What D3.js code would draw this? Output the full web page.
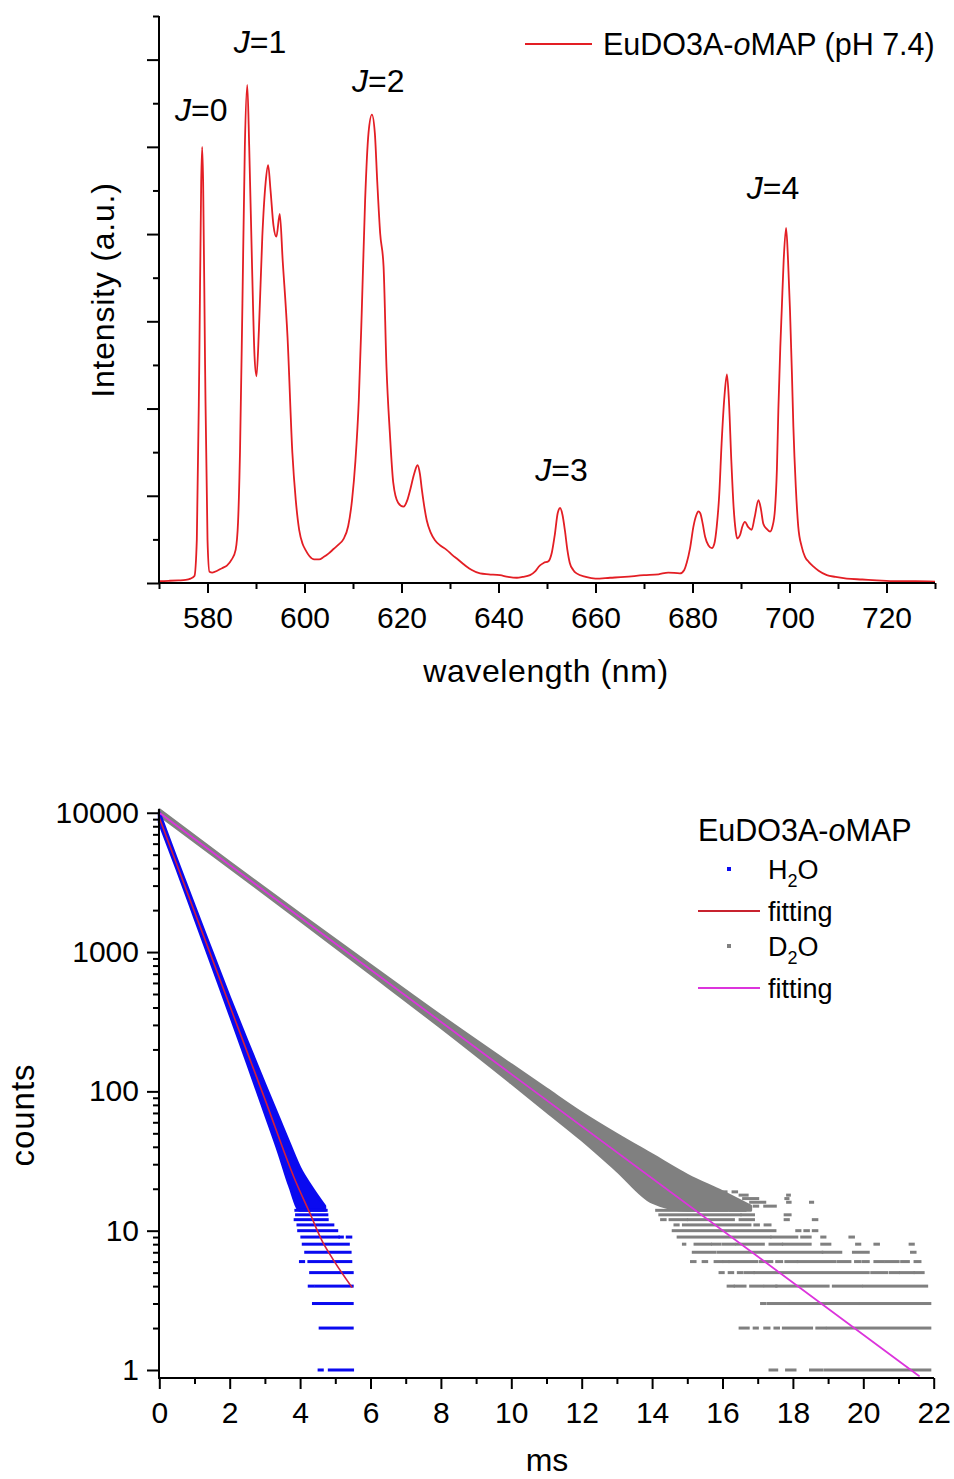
<!DOCTYPE html>
<html>
<head>
<meta charset="utf-8">
<script src="https://cdn.jsdelivr.net/npm/d3@7"></script>
<style>
  body { margin: 0; background: #fff; }
  text { font-family: "Liberation Sans", Arial, sans-serif; fill: #000; }
</style>
</head>
<body>
<svg id="chart" width="954" height="1479"></svg>
<script>
// ---- emission spectrum (wavelength nm, intensity a.u.) ----
const spectrum = [
  [570,0.02],[572,0.025],[574,0.03],[575.5,0.035],[576.5,0.05],[577.3,0.08],[577.8,0.5],[578.3,2.5],
  [578.7,4.6],[578.9,5.0],[579.1,4.6],[579.5,2.5],[580.0,0.5],[580.4,0.13],[581,0.12],[582,0.14],
  [583,0.17],[584,0.2],[585,0.27],[585.8,0.38],[586.3,0.7],[586.7,1.5],[587.2,3.2],[587.7,5.0],
  [588.2,5.71],[588.6,5.0],[589.2,3.6],[589.7,2.6],[590.1,2.37],[590.6,2.9],[591.3,3.97],[592.0,4.6],
  [592.5,4.79],[593.0,4.5],[593.6,4.1],[594.2,3.97],[594.9,4.23],[595.5,3.7],[596.5,2.82],[597.5,1.49],
  [598.2,0.95],[598.9,0.61],[599.6,0.45],[600.2,0.38],[601,0.31],[602,0.27],[603,0.27],[604,0.3],
  [605,0.34],[606,0.39],[607,0.44],[608,0.5],[609,0.65],[609.8,0.95],[610.5,1.4],[611.2,2.1],
  [611.8,3.1],[612.5,4.39],[613.2,5.16],[613.9,5.37],[614.5,5.16],[615.0,4.6],[615.6,4.01],[616.3,3.63],
  [616.9,2.48],[617.6,1.72],[618.3,1.15],[619.3,0.92],[620.4,0.875],[621.2,0.95],[621.8,1.07],[622.6,1.25],
  [623.3,1.35],[623.8,1.25],[624.2,1.07],[625.2,0.72],[626.0,0.58],[626.9,0.49],[628,0.43],[629.3,0.38],
  [630.5,0.32],[631.4,0.28],[632.5,0.23],[633.4,0.19],[634.5,0.15],[636.2,0.11],[638,0.1],[640.3,0.09],
  [642,0.07],[643.8,0.06],[645,0.07],[646.5,0.09],[647.5,0.13],[648.5,0.2],[649.3,0.23],[650.3,0.25],
  [651.0,0.35],[651.6,0.55],[652.2,0.8],[652.7,0.86],[653.2,0.78],[653.7,0.6],[654.2,0.38],[654.7,0.23],
  [655.4,0.15],[656.1,0.11],[658,0.07],[660,0.05],[663,0.06],[666,0.07],[670,0.09],[673,0.1],
  [675,0.12],[677.4,0.11],[678.3,0.15],[678.8,0.23],[679.5,0.4],[680.2,0.65],[680.8,0.78],[681.2,0.82],
  [681.6,0.8],[682.1,0.68],[682.6,0.53],[683.3,0.43],[684,0.4],[684.5,0.45],[685,0.65],[685.5,1.0],
  [686,1.6],[686.6,2.15],[687.1,2.39],[687.5,2.1],[688,1.41],[688.5,0.85],[688.9,0.6],[689.2,0.51],
  [689.8,0.55],[690.3,0.65],[690.8,0.7],[691.5,0.64],[692.2,0.61],[692.8,0.75],[693.6,0.95],[694.1,0.85],
  [694.6,0.68],[695.3,0.62],[696,0.59],[696.5,0.65],[697,0.84],[697.4,1.3],[697.7,1.98],[698.1,2.7],
  [698.4,3.13],[698.8,3.7],[699.3,4.07],[699.7,3.7],[700.1,3.13],[700.5,2.4],[700.8,1.79],[701.3,1.1],
  [701.8,0.65],[702.5,0.42],[703.2,0.3],[704,0.24],[704.9,0.19],[706,0.14],[707.7,0.09],[709.5,0.07],
  [711.8,0.05],[715,0.04],[718,0.03],[722,0.02],[726,0.02],[730,0.015]
];
const wlMajor = [580, 600, 620, 640, 660, 680, 700, 720];
const wlMinor = [570, 590, 610, 630, 650, 670, 690, 710, 730];
const intMajor = [0, 1, 2, 3, 4, 5, 6];
const intMinor = [0.5, 1.5, 2.5, 3.5, 4.5, 5.5, 6.5];
const peakLabels = [
  { j: "0", wl: 573.3, i: 5.3 },
  { j: "1", wl: 585.4, i: 6.08 },
  { j: "2", wl: 609.8, i: 5.63 },
  { j: "3", wl: 647.6, i: 1.17 },
  { j: "4", wl: 691.2, i: 4.4 }
];

// ---- luminescence decay (ms, counts) ----
// fitted curves
const h2oFit = [[0, 9200], [1, 1950], [2, 413], [3, 88], [3.86, 23], [4.28, 13.3], [4.61, 8.6], [4.94, 6.2], [5.48, 3.9]];
const d2oFit = [[0, 10000], [10, 133], [21.6, 0.9]];
// dense part of the scatter: [ms, lowest counts, highest counts]
const h2oBand = [
  [0, 8500, 10000], [0.5, 3950, 4580], [1, 1780, 2130], [1.5, 800, 1000], [2, 360, 470],
  [2.5, 160, 228], [3, 70, 112], [3.4, 36, 64], [3.7, 21, 42], [4.0, 14, 28], [4.3, 14, 21], [4.7, 14, 15]
];
const d2oBand = [
  [0, 9600, 10500], [2, 4050, 4400], [4, 1690, 1870], [6, 700, 805], [8, 288, 348], [10, 115, 155],
  [11, 72, 104], [12, 45, 70], [13, 27, 49], [14, 16, 35], [15, 14, 25], [16, 14, 19], [16.8, 14, 15]
];
// discrete low-count rows of the scatter: [counts, from ms, to ms]
const h2oRuns = [
  [1, 4.54, 4.63], [1, 4.83, 5.49], [2, 4.57, 5.48], [3, 4.38, 5.48], [4, 4.26, 4.36], [4, 4.44, 5.48],
  [5, 4.30, 5.48], [6, 4.01, 4.10], [6, 4.25, 5.44], [7, 4.16, 5.42], [8, 4.09, 5.37],
  [9, 4.05, 5.09], [9, 5.13, 5.20], [9, 5.34, 5.44], [10, 3.96, 5.04], [11, 3.94, 4.93],
  [12, 3.86, 4.77], [13, 3.90, 4.76], [14, 3.88, 4.74]
];
const d2oRuns = [
  [1, 17.35, 17.54], [1, 17.82, 18.06], [1, 18.5, 18.82], [1, 18.91, 21.89],
  [2, 16.5, 16.73], [2, 16.9, 16.99], [2, 17.2, 17.32], [2, 17.49, 17.59], [2, 17.73, 18.53], [2, 18.68, 18.91], [2, 18.98, 21.89],
  [3, 17.11, 17.21], [3, 17.3, 17.87], [3, 17.92, 19.86], [3, 19.91, 21.89],
  [4, 16.16, 16.31], [4, 16.36, 16.64], [4, 16.8, 17.14], [4, 17.21, 17.52], [4, 17.54, 19.0], [4, 19.15, 19.95], [4, 20.02, 21.8],
  [5, 15.93, 16.02], [5, 16.19, 16.29], [5, 16.45, 16.55], [5, 16.64, 16.88], [5, 16.92, 20.14], [5, 20.24, 20.66],
  [5, 20.76, 21.0], [5, 21.06, 21.42], [5, 21.47, 21.7],
  [6, 15.12, 15.22], [6, 15.45, 15.55], [6, 15.79, 15.98], [6, 16.04, 16.16], [6, 16.21, 16.97], [6, 17.07, 17.4],
  [6, 17.54, 17.68], [6, 17.8, 18.11], [6, 18.15, 19.2], [6, 19.29, 19.62], [6, 19.78, 19.91], [6, 20.0, 20.14],
  [6, 20.33, 20.57], [6, 20.64, 20.99], [6, 21.09, 21.28], [6, 21.47, 21.61],
  [7, 15.17, 15.79], [7, 15.88, 18.82], [7, 18.86, 19.36], [7, 19.72, 20.14], [7, 21.37, 21.47],
  [8, 14.89, 14.93], [8, 15.22, 15.66], [8, 15.72, 15.93], [8, 16.02, 16.33], [8, 16.4, 17.16], [8, 17.35, 17.68],
  [8, 17.73, 18.49], [8, 18.82, 19.05], [8, 19.81, 19.9], [8, 20.33, 20.43], [8, 21.33, 21.42],
  [9, 14.74, 17.35], [9, 17.4, 18.11], [9, 18.25, 18.49], [9, 18.82, 18.91], [9, 19.62, 19.72],
  [10, 14.6, 17.49], [10, 18.11, 18.2], [10, 18.34, 18.44], [10, 18.58, 18.68],
  [11, 14.65, 14.74], [11, 14.89, 16.78], [11, 16.92, 17.02], [11, 17.21, 17.35],
  [12, 14.27, 14.37], [12, 14.51, 14.98], [12, 15.03, 16.31], [12, 16.5, 16.88], [12, 17.78, 17.87], [12, 18.58, 18.68],
  [13, 14.22, 16.5], [13, 16.55, 16.88], [13, 17.78, 17.92],
  [14, 14.13, 16.12], [14, 16.21, 16.64],
  [15, 16.9, 17.0], [15, 17.2, 17.5], [16, 16.8, 17.2], [16, 17.85, 17.92], [16, 18.5, 18.56],
  [17, 16.6, 17.0], [17, 17.8, 17.86], [18, 16.5, 16.7], [18, 17.85, 17.9], [19, 16.0, 16.1], [19, 16.3, 16.4]
];
const msMajor = [0, 2, 4, 6, 8, 10, 12, 14, 16, 18, 20, 22];
const msMinor = [1, 3, 5, 7, 9, 11, 13, 15, 17, 19, 21];
const countMajor = [1, 10, 100, 1000, 10000];

const svg = d3.select("#chart");
const fontTick = 30, fontTitle = 32;

function styleAxis(g, size) {
  g.select(".domain").remove();
  g.selectAll("line").attr("stroke", "#000").attr("stroke-width", 2);
  g.selectAll("text").attr("font-size", size).attr("font-family", null).attr("fill", "#000");
}

// ================= top chart =================
const xWl = d3.scaleLinear().domain([570, 730]).range([159, 935]);
const yInt = d3.scaleLinear().domain([0, 6.5]).range([583, 16]);

const gTop = svg.append("g");

gTop.append("path")
  .attr("d", d3.line().x(d => xWl(d[0])).y(d => yInt(d[1])).curve(d3.curveMonotoneX)(spectrum))
  .attr("fill", "none").attr("stroke", "#e31e24").attr("stroke-width", 1.8)
  .attr("stroke-linejoin", "round");

gTop.append("g").attr("transform", "translate(0,583)")
  .call(d3.axisBottom(xWl).tickValues(wlMajor).tickSize(10).tickPadding(14).tickSizeOuter(0))
  .call(g => styleAxis(g, fontTick));
gTop.append("g").attr("transform", "translate(0,583)")
  .call(d3.axisBottom(xWl).tickValues(wlMinor).tickSize(6).tickFormat("").tickSizeOuter(0))
  .call(g => styleAxis(g, fontTick));
gTop.append("g").attr("transform", "translate(159,0)")
  .call(d3.axisLeft(yInt).tickValues(intMajor).tickSize(12).tickFormat("").tickSizeOuter(0))
  .call(g => styleAxis(g, fontTick));
gTop.append("g").attr("transform", "translate(159,0)")
  .call(d3.axisLeft(yInt).tickValues(intMinor).tickSize(6).tickFormat("").tickSizeOuter(0))
  .call(g => styleAxis(g, fontTick));
gTop.append("line").attr("x1", 158).attr("x2", 935).attr("y1", 583).attr("y2", 583).attr("stroke", "#000").attr("stroke-width", 2);
gTop.append("line").attr("x1", 159).attr("x2", 159).attr("y1", 16).attr("y2", 584).attr("stroke", "#000").attr("stroke-width", 2);

gTop.append("text").attr("x", 546).attr("y", 682).attr("text-anchor", "middle")
  .attr("font-size", fontTitle).attr("letter-spacing", 0.6).text("wavelength (nm)");
gTop.append("text").attr("transform", "translate(114,290) rotate(-90)").attr("text-anchor", "middle")
  .attr("font-size", fontTitle).attr("letter-spacing", 0.8).text("Intensity (a.u.)");

const pl = gTop.selectAll(".peak").data(peakLabels).enter().append("text")
  .attr("class", "peak").attr("x", d => xWl(d.wl)).attr("y", d => yInt(d.i))
  .attr("font-size", fontTitle);
pl.append("tspan").attr("font-style", "italic").text("J");
pl.append("tspan").text(d => "=" + d.j);

gTop.append("line").attr("x1", 525).attr("x2", 592).attr("y1", 44).attr("y2", 44)
  .attr("stroke", "#e31e24").attr("stroke-width", 1.8);
const lt = gTop.append("text").attr("x", 603).attr("y", 55).attr("font-size", 30.5);
lt.append("tspan").text("EuDO3A-");
lt.append("tspan").attr("font-style", "italic").text("o");
lt.append("tspan").text("MAP (pH 7.4)");

// ================= bottom chart =================
const xMs = d3.scaleLinear().domain([0, 22]).range([159.3, 933.7]);
const yCnt = d3.scaleLog().domain([0.876, 10640]).range([1378, 809]);
const countMinor = [];
countMajor.slice(0, 4).forEach(dec => [2, 3, 4, 5, 6, 7, 8, 9].forEach(k => countMinor.push(dec * k)));

const gBot = svg.append("g");

function drawScatter(band, runs, color) {
  gBot.append("path")
    .attr("d", d3.area().x(d => xMs(d[0])).y0(d => yCnt(d[1])).y1(d => yCnt(d[2])).curve(d3.curveMonotoneX)(band))
    .attr("fill", color).attr("stroke", color).attr("stroke-width", 3).attr("stroke-linejoin", "round");
  gBot.selectAll(null).data(runs).enter().append("rect")
    .attr("x", d => xMs(d[1]) - 1.5).attr("width", d => xMs(d[2]) - xMs(d[1]) + 3)
    .attr("y", d => yCnt(d[0]) - 1.5).attr("height", 3)
    .attr("fill", color);
}
drawScatter(d2oBand, d2oRuns, "#808080");
drawScatter(h2oBand, h2oRuns, "#0a0af0");

const fitLine = d3.line().x(d => xMs(d[0])).y(d => yCnt(d[1])).curve(d3.curveMonotoneX);
gBot.append("path").attr("d", fitLine(d2oFit)).attr("fill", "none").attr("stroke", "#dc34dc").attr("stroke-width", 1.8);
gBot.append("path").attr("d", fitLine(h2oFit)).attr("fill", "none").attr("stroke", "#d4203c").attr("stroke-width", 1.6);

gBot.append("g").attr("transform", "translate(0,1378)")
  .call(d3.axisBottom(xMs).tickValues(msMajor).tickSize(11).tickPadding(13).tickSizeOuter(0))
  .call(g => styleAxis(g, fontTick));
gBot.append("g").attr("transform", "translate(0,1378)")
  .call(d3.axisBottom(xMs).tickValues(msMinor).tickSize(6).tickFormat("").tickSizeOuter(0))
  .call(g => styleAxis(g, fontTick));
gBot.append("g").attr("transform", "translate(159,0)")
  .call(d3.axisLeft(yCnt).tickValues(countMajor).tickSize(12).tickPadding(8).tickFormat(d3.format("d")).tickSizeOuter(0))
  .call(g => styleAxis(g, fontTick));
gBot.append("g").attr("transform", "translate(159,0)")
  .call(d3.axisLeft(yCnt).tickValues(countMinor).tickSize(6).tickFormat("").tickSizeOuter(0))
  .call(g => styleAxis(g, fontTick));
gBot.append("line").attr("x1", 158).attr("x2", 934).attr("y1", 1378).attr("y2", 1378).attr("stroke", "#000").attr("stroke-width", 2);
gBot.append("line").attr("x1", 159).attr("x2", 159).attr("y1", 809).attr("y2", 1379).attr("stroke", "#000").attr("stroke-width", 2);

gBot.append("text").attr("x", 547).attr("y", 1471).attr("text-anchor", "middle")
  .attr("font-size", fontTitle).text("ms");
gBot.append("text").attr("transform", "translate(34,1115) rotate(-90)").attr("text-anchor", "middle")
  .attr("font-size", 33).attr("letter-spacing", 1).text("counts");

// legend
const lg = gBot.append("g");
const t0 = lg.append("text").attr("x", 698).attr("y", 841).attr("font-size", 30.5);
t0.append("tspan").text("EuDO3A-");
t0.append("tspan").attr("font-style", "italic").text("o");
t0.append("tspan").text("MAP");

const legendItems = [
  { y: 869, kind: "dot", color: "#0a0af0", label: ["H", "2", "O"] },
  { y: 911, kind: "line", color: "#c8232f", label: ["fitting"] },
  { y: 946, kind: "dot", color: "#808080", label: ["D", "2", "O"] },
  { y: 988, kind: "line", color: "#dc34dc", label: ["fitting"] }
];
legendItems.forEach(it => {
  if (it.kind === "dot") {
    lg.append("rect").attr("x", 727).attr("y", it.y - 2).attr("width", 4).attr("height", 4).attr("fill", it.color);
  } else {
    lg.append("line").attr("x1", 698).attr("x2", 760).attr("y1", it.y).attr("y2", it.y)
      .attr("stroke", it.color).attr("stroke-width", 1.8);
  }
  const tx = lg.append("text").attr("x", 768).attr("y", it.y + 10).attr("font-size", 27);
  if (it.label.length === 3) {
    tx.append("tspan").text(it.label[0]);
    tx.append("tspan").attr("font-size", 18).attr("dy", 8).text(it.label[1]);
    tx.append("tspan").attr("dy", -8).text(it.label[2]);
  } else {
    tx.text(it.label[0]);
  }
});
</script>
</body>
</html>
